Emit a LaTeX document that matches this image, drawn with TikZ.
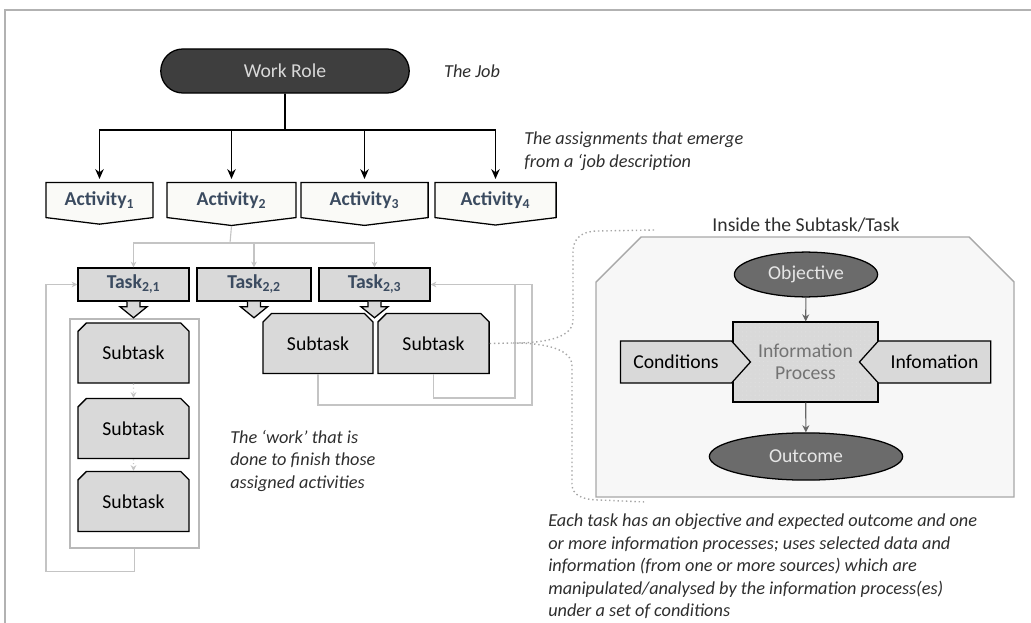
\documentclass[tikz,border=0pt]{standalone}
\usepackage{fontspec}
\setmainfont{Carlito}
\usetikzlibrary{arrows.meta,positioning,shapes.misc,shapes.symbols,shapes.geometric,patterns}

\definecolor{roledark}{HTML}{3E3E3E}
\definecolor{ovaldark}{HTML}{6B6B6B}
\definecolor{boxgray}{HTML}{D9D9D9}
\definecolor{actfill}{HTML}{FAFAF7}
\definecolor{labelblue}{HTML}{3B4B60}
\definecolor{linkgray}{HTML}{C4C4C4}
\definecolor{panelfill}{HTML}{F7F7F7}
\definecolor{panelline}{HTML}{A8A8A8}
\definecolor{notegray}{HTML}{2E2E2E}

\tikzset{
  base/.style={font=\fontsize{14}{16}\selectfont, inner sep=2pt},
  role/.style={base, rounded rectangle, draw=black, line width=0.9pt, fill=roledark,
    text=white!85!black, minimum width=6.35cm, minimum height=1.1cm},
  activity/.style={signal, signal to=south, signal from=nowhere, signal pointer angle=166,
    draw=black, line width=0.9pt, fill=actfill, text=labelblue,
    font=\bfseries\fontsize{14}{16}\selectfont, minimum height=1cm},
  task/.style={rectangle, draw=black, line width=0.9pt, fill=boxgray, text=labelblue,
    font=\bfseries\fontsize{14}{16}\selectfont, minimum height=0.83cm},
  subtask/.style={base, chamfered rectangle, chamfered rectangle corners={north west,north east},
    chamfered rectangle xsep=0.1cm, draw=black, line width=0.9pt, fill=boxgray,
    minimum width=2.78cm, minimum height=1.5cm},
  oval/.style={base, ellipse, draw=black, line width=0.9pt, fill=ovaldark, text=white!90!black},
  feed/.style={base, signal, signal from=nowhere, signal pointer angle=96, draw=black,
    line width=0.9pt, fill=boxgray, minimum height=1.05cm},
  process/.style={base, rectangle, draw=black, line width=0.9pt, text=gray!90!black,
    preaction={fill=boxgray}, pattern=dots, pattern color=white!75!gray, align=center,
    minimum width=3.63cm, minimum height=2cm},
  rolelink/.style={draw=black, line width=1.1pt},
  lightlink/.style={draw=linkgray, line width=0.8pt, >={Stealth[length=4pt,width=4pt]}},
  darklink/.style={draw=gray!80!black, line width=0.8pt, >={Stealth[length=5pt,width=5pt]}},
  blockarrow/.style={draw=black, line width=0.9pt, fill=boxgray, line join=miter},
  bracket/.style={draw=gray!70, line width=1pt, dotted},
  note/.style={font=\itshape\fontsize{13}{16}\selectfont, text=notegray, align=left, inner sep=0pt},
}

\begin{document}
\begin{tikzpicture}[x=0.025cm, y=-0.025cm, >={Stealth[length=7pt,width=6pt]}]
\useasboundingbox (0,0) rectangle (1031,623);
\draw[gray!60, line width=1pt] (5,623) -- (5,10) -- (1031,10);

% the job
\node[role] (role) at (285,71) {Work Role};
\node[note, right=0.85cm of role] (job) {The Job};

\node[activity, minimum width=2.68cm] (a1) at (99.5,200) {Activity\textsubscript{1}};
\node[activity, minimum width=3.22cm] (a2) at (231.5,200) {Activity\textsubscript{2}};
\node[activity, minimum width=3.18cm] (a3) at (364.5,200) {Activity\textsubscript{3}};
\node[activity, minimum width=3.03cm] (a4) at (495.5,200) {Activity\textsubscript{4}};
\node[note, anchor=west] (assign) at (524,151) {The assignments that emerge\\from a ‘job description};

\coordinate (hub) at (285,130);
\draw[rolelink] (role) -- (hub);
\foreach \a in {a1,a2,a3,a4}
  \draw[rolelink, ->, shorten >=2pt] (hub) -| (\a.north);

% tasks
\node[task, minimum width=2.78cm] (t1) at (133.5,284.5) {Task\textsubscript{2,1}};
\node[task, minimum width=2.85cm] (t2) at (254,284.5) {Task\textsubscript{2,2}};
\node[task, minimum width=2.78cm] (t3) at (374.5,284.5) {Task\textsubscript{2,3}};

\coordinate (split) at (230,243);
\draw[lightlink] (a2.south) -- (split);
\foreach \t in {t1,t2,t3}
  \draw[lightlink, ->] (split) -| (\t.north);

% subtasks
\node[draw=gray!55, line width=0.8pt, minimum width=3.225cm, minimum height=5.725cm] (grp) at (134.5,433.5) {};
\node[subtask] (s1) at (133.5,353) {Subtask};
\node[subtask] (s2) at (133.5,428.5) {Subtask};
\node[subtask] (s3) at (133.5,501.5) {Subtask};
\node[subtask, minimum width=2.75cm] (s4) at (318,343.5) {Subtask};
\node[subtask] (s5) at (433.5,343.5) {Subtask};

\draw[lightlink, dotted, ->] (s1) -- (s2);
\draw[lightlink, dotted, ->] (s2) -- (s3);

\foreach \t in {t1,t2,t3}
  \draw[blockarrow] ([shift={(-6.5,0)}]\t.south) -- ++(0,5) -- ++(-7,0) -- ++(13.5,11)
    -- ++(13.5,-11) -- ++(-7,0) -- ++(0,-5);

% feedback loops
\draw[lightlink, ->] (grp.south) -- ++(0,23) -| (46,400) |- (t1.west);
\draw[lightlink, ->] (s4.south) |- (532,405) |- (t3.east);
\draw[lightlink] (s5.south) |- (515,398) |- (t3.east);

\node[note, anchor=north west] (work) at (230,430) {The ‘work’ that is\\done to finish those\\assigned activities};

% inside the subtask
\draw[bracket] (s5.east) -- (513,343) .. controls (548,343) and (573,337) .. (573,320)
  -- (573,252) .. controls (573,238) and (582,231) .. (598,231) -- (655,230);
\draw[bracket] (513,343) .. controls (548,343) and (572,350) .. (572,366)
  -- (572,484) .. controls (572,496) and (584,500) .. (600,500) -- (645,502);

\draw[draw=panelline, fill=panelfill, line width=1pt] (596,497) -- (596,282) -- (641,237)
  -- (969,237) -- (1014,282) -- (1014,497) -- cycle;
\node[base, text=notegray] (inside) at (806,225) {Inside the Subtask/Task};

\node[oval, minimum width=3.58cm, minimum height=1.12cm] (obj) at (806,274.5) {Objective};
\node[process] (ipro) at (805.5,362) {Information\\Process};
\node[oval, minimum width=4.83cm, minimum height=1.18cm] (outc) at (806,456.5) {Outcome};
\node[feed, signal to=east, minimum width=3.25cm] (cond) at (676,362) {Conditions};
\node[feed, signal to=west, minimum width=3.28cm] (info) at (934.5,362) {Infomation};

\draw[darklink, ->] (obj) -- (ipro);
\draw[darklink, ->] (ipro) -- (outc);

\node[note, anchor=north west] (caption) at (548,514) {Each task has an objective and expected outcome and one\\or more information processes; uses selected data and\\information (from one or more sources) which are\\manipulated/analysed by the information process(es)\\under a set of conditions};
\end{tikzpicture}
\end{document}
